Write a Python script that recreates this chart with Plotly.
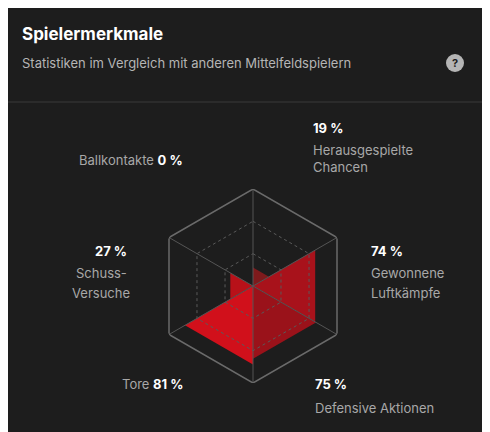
import plotly.graph_objects as go

categories = ["Herausgespielte Chancen", "Gewonnene Luftkämpfe", "Defensive Aktionen", "Tore", "Schuss-Versuche", "Ballkontakte"]
values = [19, 74, 75, 81, 27, 0]
start_angles = [90, 30, -30, -90, -150, 150]
colors = ["#7e1a1c", "#a8121b", "#9a121a", "#d1101b", "#b81119", "#8a1a1c"]
grid_levels = [33.3, 66.7]

W, H = 490, 432
DX, DY = -10, -7
bg = "#1d1d1d"
fig = go.Figure()
for cat, v, a, c in zip(categories, values, start_angles, colors):
    fig.add_trace(go.Scatterpolar(r=[0, v, v, 0], theta=[a, a, a - 60, a], mode="lines",
                                  fill="toself", fillcolor=c, line=dict(width=0, color=c),
                                  name=cat, hoverinfo="name"))
hex_theta = start_angles + [start_angles[0]]
for lv in grid_levels:
    fig.add_trace(go.Scatterpolar(r=[lv] * 7, theta=hex_theta, mode="lines",
                                  line=dict(color="#5a5a5a", width=1, dash="dot"), hoverinfo="skip"))
for a in start_angles:
    fig.add_trace(go.Scatterpolar(r=[0, 100], theta=[a, a], mode="lines",
                                  line=dict(color="#555555", width=1), hoverinfo="skip"))
fig.add_trace(go.Scatterpolar(r=[100] * 7, theta=hex_theta, mode="lines",
                              line=dict(color="#6a6a6a", width=1.5), hoverinfo="skip"))

def px(x, y):
    return (x + DX) / W, 1 - (y + DY) / H

ann = []
def add(x, y, text, anchor="left", color="#a8a8a8", size=13):
    xx, yy = px(x, y)
    ann.append(dict(x=xx, y=yy, xref="paper", yref="paper", text=text, showarrow=False,
                    xanchor=anchor, yanchor="middle", align=anchor,
                    font=dict(color=color, size=size, family="Inter")))

add(22, 33, "<b>Spielermerkmale</b>", color="#ffffff", size=17)
add(22, 62, "Statistiken im Vergleich mit anderen Mittelfeldspielern", color="#b5b5b5", size=13)
add(457, 62, "<b>?</b>", anchor="center", color=bg, size=11)
add(313, 127, "<b>19 %</b>", color="#ffffff")
add(313, 149, "Herausgespielte")
add(313, 166, "Chancen")
add(371, 250, "<b>74 %</b>", color="#ffffff")
add(371, 272, "Gewonnene")
add(371, 292, "Luftkämpfe")
add(315, 383, "<b>75 %</b>", color="#ffffff")
add(315, 407, "Defensive Aktionen")
add(187, 383, "Tore <b><span style='color:#ffffff'>81 %</span></b>", anchor="right")
add(113, 250, "<b>27 %</b>", anchor="center", color="#ffffff")
add(103, 272, "Schuss-", anchor="center")
add(103, 292, "Versuche", anchor="center")
add(187, 159, "Ballkontakte <b><span style='color:#ffffff'>0 %</span></b>", anchor="right")

fig.update_layout(
    width=W, height=H, margin=dict(l=0, r=0, t=0, b=0),
    paper_bgcolor=bg, plot_bgcolor=bg, showlegend=False,
    annotations=ann,
    shapes=[dict(type="line", xref="paper", yref="paper", x0=0, x1=1, y0=1 - (101 + DY) / H, y1=1 - (101 + DY) / H,
                 line=dict(color="#3a3a3a", width=1)),
            dict(type="circle", xref="paper", yref="paper", x0=(448 + DX) / W, x1=(466 + DX) / W,
                 y0=1 - (71 + DY) / H, y1=1 - (53 + DY) / H, fillcolor="#b5b5b5", line=dict(width=0))],
    polar=dict(
        domain=dict(x=[(158 + DX) / W, (352 + DX) / W], y=[(50 - DY) / H, (244 - DY) / H]),
        bgcolor="rgba(0,0,0,0)",
        radialaxis=dict(range=[0, 100], showticklabels=False, ticks="", showline=False, showgrid=False),
        angularaxis=dict(thetaunit="degrees", showticklabels=False, ticks="", showgrid=False,
                         showline=False, rotation=0, direction="counterclockwise"),
    ),
)
fig.write_html("out.html")
